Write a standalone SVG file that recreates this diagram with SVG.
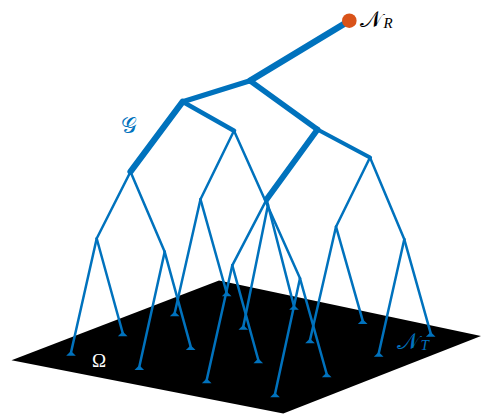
<svg xmlns="http://www.w3.org/2000/svg" xmlns:xlink="http://www.w3.org/1999/xlink" width="481" height="414" viewBox="0 0 481 414">
<style>
.e{stroke:#0072BD;fill:none;stroke-linecap:round}
.t{stroke-width:2.5}
.leaf{fill:#0072BD}
.math{font-family:"DejaVu Serif","Liberation Serif",serif}
.it{font-family:"Liberation Serif",serif;font-style:italic}
</style>
<defs>
<path id="tri" d="M-4.8,2 L4.8,2 L0,-2.8 Z"/>
</defs>
<rect width="481" height="414" fill="#fff"/>
<g id="plane">
<polygon points="11.5,360.3 219,280.5 481,336 283.3,413.5" fill="#000"/>
<text x="92" y="367" font-family="Liberation Serif,serif" font-size="19" fill="#fff">Ω</text>
</g>
<g id="connectors" class="e">
<line x1="349.3" y1="20.7" x2="250" y2="80.7" stroke-width="6.3"/>
<line x1="250" y1="80.7" x2="182.7" y2="101.7" stroke-width="5.1"/>
<line x1="250" y1="80.7" x2="317.5" y2="129.5" stroke-width="5.4"/>
<line x1="182.7" y1="101.7" x2="130.5" y2="171.7" stroke-width="6.2"/>
<line x1="182.7" y1="101.7" x2="234" y2="130.7" stroke-width="4.6"/>
<line x1="317.5" y1="129.5" x2="266.7" y2="199.3" stroke-width="5.8"/>
<line x1="317.5" y1="129.5" x2="370" y2="157.5" stroke-width="4.2"/>
<g class="t">
<line x1="130.5" y1="171.7" x2="96.7" y2="238.5"/>
<line x1="130.5" y1="171.7" x2="164.7" y2="251.8"/>
<line x1="234" y1="130.7" x2="200.5" y2="199.3"/>
<line x1="234" y1="130.7" x2="300" y2="278.3"/>
<line x1="266.7" y1="199.3" x2="232.3" y2="265.3"/>
<line x1="266.7" y1="199.3" x2="268" y2="205"/>
<line x1="370" y1="157.5" x2="336" y2="226.7"/>
<line x1="370" y1="157.5" x2="404.3" y2="239.3"/>
<line x1="96.7" y1="238.5" x2="71" y2="352.5"/>
<line x1="96.7" y1="238.5" x2="122.7" y2="333"/>
<line x1="164.7" y1="251.8" x2="139.3" y2="366.7"/>
<line x1="164.7" y1="251.8" x2="190.7" y2="346.7"/>
<line x1="200.5" y1="199.3" x2="174.7" y2="313"/>
<line x1="200.5" y1="199.3" x2="226.7" y2="293"/>
<line x1="300" y1="278.3" x2="275" y2="394"/>
<line x1="300" y1="278.3" x2="326.7" y2="374"/>
<line x1="232.3" y1="265.3" x2="206.7" y2="380"/>
<line x1="232.3" y1="265.3" x2="258.3" y2="360"/>
<line x1="268" y1="205" x2="243.3" y2="326.4"/>
<line x1="268" y1="205" x2="294" y2="306.4"/>
<line x1="336" y1="226.7" x2="310" y2="340"/>
<line x1="336" y1="226.7" x2="362.7" y2="320.7"/>
<line x1="404.3" y1="239.3" x2="378.7" y2="353.4"/>
<line x1="404.3" y1="239.3" x2="430.7" y2="333.4"/>
</g>
</g>
<g id="root">
<circle cx="349.3" cy="20.7" r="7.3" fill="#D95319"/>
<text x="360" y="27" class="math" font-size="23" fill="#000">𝒩<tspan class="it" font-size="15" dx="1.5" dy="1">R</tspan></text>
</g>
<g id="nA"/><g id="nB"/><g id="nC"/><g id="nD"/><g id="nE"/><g id="nF"/><g id="nG"/>
<g id="nH"/><g id="nI"/><g id="nJ"/><g id="nK"/><g id="nL"/><g id="nM"/><g id="nN"/><g id="nO"/>
<g id="graph-label"><text x="121" y="133" class="math" font-size="22" fill="#0072BD">𝒢</text></g>
<g class="leaf">
<g id="leaf1"><use xlink:href="#tri" x="71" y="353.7"/></g>
<g id="leaf2"><use xlink:href="#tri" x="122.7" y="334.3"/></g>
<g id="leaf3"><use xlink:href="#tri" x="139.3" y="368"/></g>
<g id="leaf4"><use xlink:href="#tri" x="190.7" y="348"/></g>
<g id="leaf5"><use xlink:href="#tri" x="174.7" y="314.3"/></g>
<g id="leaf6"><use xlink:href="#tri" x="226.7" y="294.3"/></g>
<g id="leaf7"><use xlink:href="#tri" x="275" y="395.3"/></g>
<g id="leaf8"><use xlink:href="#tri" x="326.7" y="375.3"/></g>
<g id="leaf9"><use xlink:href="#tri" x="206.7" y="381.3"/></g>
<g id="leaf10"><use xlink:href="#tri" x="258.3" y="361.3"/></g>
<g id="leaf11"><use xlink:href="#tri" x="243.3" y="327.7"/></g>
<g id="leaf12"><use xlink:href="#tri" x="294" y="307.7"/></g>
<g id="leaf13"><use xlink:href="#tri" x="310" y="341.3"/></g>
<g id="leaf14"><use xlink:href="#tri" x="362.7" y="322"/></g>
<g id="leaf15"><use xlink:href="#tri" x="378.7" y="354.7"/></g>
<g id="leaf16"><use xlink:href="#tri" x="430.7" y="334.7"/></g>
</g>
<g id="targets-label"><text x="397" y="349" class="math" font-size="23" fill="#0072BD">𝒩<tspan class="it" font-size="15" dx="1.5" dy="1">T</tspan></text></g>
</svg>
